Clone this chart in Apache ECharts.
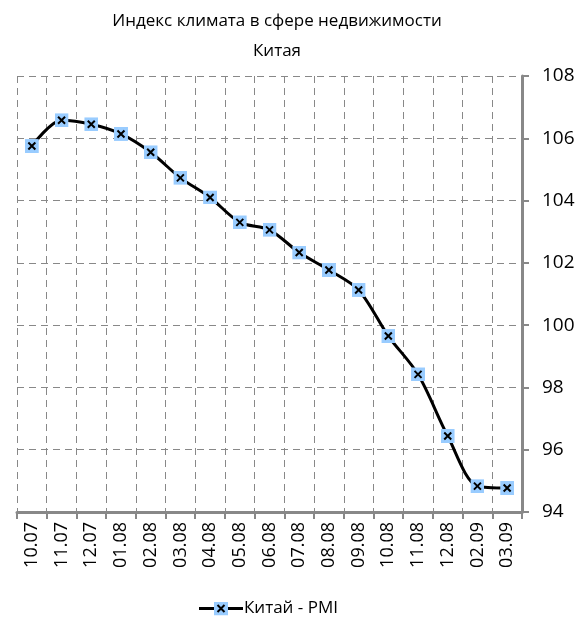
<!DOCTYPE html>
<html>
<head>
<meta charset="utf-8">
<script src="https://cdn.jsdelivr.net/npm/echarts@6/dist/echarts.min.js"></script>
<style>
  html, body { margin: 0; padding: 0; background: #fff; }
  #main { width: 585px; height: 622px; }
</style>
</head>
<body>
<div id="main"></div>
<script>
// месяцы
var months = ['10.07', '11.07', '12.07', '01.08', '02.08', '03.08', '04.08', '05.08', '06.08',
              '07.08', '08.08', '09.08', '10.08', '11.08', '12.08', '02.09', '03.09'];
// Китай - PMI
var pmi = [105.75, 106.58, 106.45, 106.14, 105.55, 104.73, 104.1, 103.3, 103.06,
           102.33, 101.77, 101.13, 99.65, 98.42, 96.44, 94.83, 94.77];

var yMin = 94, yMax = 108, yStep = 2;

// маркер: голубой квадрат с чёрным крестиком
var markerSvg = '<svg xmlns="http://www.w3.org/2000/svg" width="14" height="14" viewBox="0 0 14 14">' +
  '<rect x="0" y="0" width="14" height="14" fill="#99ccff"/>' +
  '<path d="M3.5 3.5 L10.5 10.5 M10.5 3.5 L3.5 10.5" stroke="#000" stroke-width="2"/></svg>';
var marker = 'image://data:image/svg+xml;charset=utf-8,' + encodeURIComponent(markerSvg);

// значок легенды: линия + маркер
var legendSvg = '<svg xmlns="http://www.w3.org/2000/svg" width="44" height="14" viewBox="0 0 44 14">' +
  '<path d="M0 7 L44 7" stroke="#000" stroke-width="3"/>' +
  '<rect x="15" y="0" width="14" height="14" fill="#99ccff"/>' +
  '<path d="M18.5 3.5 L25.5 10.5 M25.5 3.5 L18.5 10.5" stroke="#000" stroke-width="2"/></svg>';
var legendIcon = 'image://data:image/svg+xml;charset=utf-8,' + encodeURIComponent(legendSvg);

var font = 'Open Sans';
var myChart = echarts.init(document.getElementById('main'));

var option = {
  backgroundColor: '#fff',
  animation: false,
  title: {
    text: 'Индекс климата в сфере недвижимости\nКитая',
    left: 272,
    top: 1,
    textAlign: 'center',
    textStyle: { fontFamily: font, fontSize: 17, fontWeight: 'normal', color: '#000', lineHeight: 30 }
  },
  legend: {
    data: [{ name: 'Китай - PMI', icon: legendIcon }],
    left: 194,
    top: 595,
    itemWidth: 44,
    itemHeight: 14,
    itemGap: 4,
    textStyle: { fontFamily: font, fontSize: 17, color: '#000', padding: [0, 0, 0, -4] }
  },
  grid: { left: 17, right: 63, top: 76, bottom: 110 },
  xAxis: {
    type: 'category',
    data: months,
    boundaryGap: true,
    axisLine: { lineStyle: { color: '#888', width: 3 } },
    axisTick: { show: true, length: 7, inside: false, lineStyle: { color: '#888', width: 2 } },
    axisLabel: { rotate: 90, fontFamily: font, fontSize: 18, color: '#000', margin: 10 },
    splitLine: { show: true, lineStyle: { color: '#888', type: [7, 5], width: 1 } }
  },
  yAxis: {
    type: 'value',
    position: 'right',
    min: yMin,
    max: yMax,
    interval: yStep,
    axisLine: { show: true, lineStyle: { color: '#888', width: 3 } },
    axisTick: { show: true, length: 7, lineStyle: { color: '#888', width: 2 } },
    axisLabel: { fontFamily: font, fontSize: 19, color: '#000', margin: 20 },
    splitLine: { show: true, lineStyle: { color: '#888', type: [7, 5], width: 1 } }
  },
  series: [{
    name: 'Китай - PMI',
    type: 'line',
    data: pmi,
    smooth: 0.3,
    symbol: marker,
    symbolSize: 14,
    lineStyle: { color: '#000', width: 3 },
    itemStyle: { color: '#000' }
  }]
};

myChart.setOption(option);
</script>
</body>
</html>
